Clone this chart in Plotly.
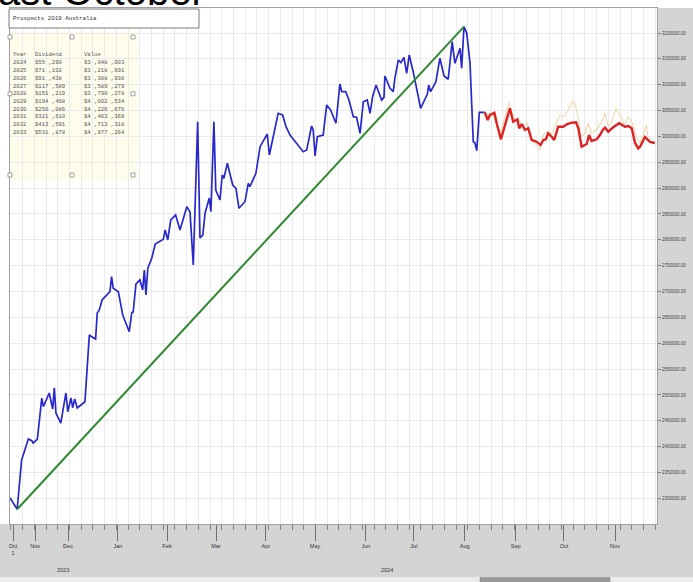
import plotly.graph_objects as go

# ---------------- data ----------------
# x is the trading-bar index of the chart's time axis
blue_bar = [0, 3.1, 5.0, 6.5, 7.9, 9.4, 10.0, 11.8, 13.7, 14.4, 16.9, 18.4, 19.1, 19.8, 21.9, 24.1, 24.9,
            26.3, 27.0, 27.9, 29.0, 32.3, 34.2, 35.2, 36.9, 37.6, 38.5, 39.7, 43.1, 43.8, 44.5, 46.7, 48.6,
            51.4, 52.5, 53.1, 54.3, 56.0, 57.2, 57.9, 58.6, 59.4, 61.1, 62.6, 66.1, 66.9, 68.0, 69.3, 71.4,
            73.3, 76.2, 77.6, 79.0, 80.9, 81.9, 83.1, 84.1, 85.9, 86.6, 87.9, 88.7, 90.5, 91.5, 92.2, 93.7,
            96.0, 97.4, 98.7, 101.3, 102.7, 103.4, 106.0, 107.8, 110.9, 111.8, 112.8, 115.6, 117.5, 119.0,
            120.7, 126.4, 127.9, 130.0, 130.7, 131.5, 132.5, 135.0, 136.5, 138.2, 140.5, 142.2, 143.0, 144.7,
            146.1, 148.0, 149.4, 150.9, 152.3, 154.0, 155.2, 156.3, 157.8, 160.2, 161.2, 161.6, 163.8, 165.2,
            165.9, 167.4, 168.5, 169.8, 171.0, 172.1, 173.1, 173.8, 177.0, 179.2, 179.9, 180.5, 181.3, 183.6,
            185.3, 187.1, 188.9, 190.6, 191.8, 194.0, 194.7, 195.7, 196.9, 198.3, 199.7, 200.4, 201.2, 202.3,
            204.7]
blue_val = [2301000, 2279000, 2374000, 2393500, 2414800, 2411500, 2407000, 2414800, 2494000, 2477300, 2503800,
            2472800, 2514000, 2465000, 2445700, 2503800, 2467600, 2494000, 2475300, 2492200, 2474800, 2486900,
            2615900, 2612600, 2608200, 2658500, 2664300, 2683600, 2699700, 2728700, 2706200, 2699700, 2654600,
            2622300, 2659100, 2660400, 2714600, 2722300, 2703000, 2741600, 2693300, 2744900, 2764300, 2791900,
            2801000, 2819000, 2799700, 2838300, 2848000, 2819000, 2864100, 2853800, 2751300, 3028500, 2803500,
            2809300, 2851900, 2880900, 2854400, 3028500, 2896400, 2877000, 2925400, 2919000, 2948000, 2906000,
            2899600, 2861000, 2873700, 2909300, 2902700, 2928700, 2980100, 3004700, 2964100, 2985300, 3044700,
            3041400, 3018800, 3002700, 2970400, 2973700, 3020100, 3012400, 2962100, 2999400, 3002700, 3060800,
            3051100, 3025400, 3101400, 3086500, 3086500, 3070400, 3038100, 3037000, 3006000, 3067100, 3070400,
            3044700, 3076800, 3099400, 3070400, 3075600, 3116800, 3093000, 3086500, 3112400, 3147800, 3142600,
            3153000, 3122100, 3157500, 3138100, 3125200, 3054400, 3076800, 3082000, 3099400, 3086500, 3105800,
            3151100, 3116800, 3110500, 3183200, 3141400, 3170400, 3131700, 3212200, 3199400, 3141400, 2989800,
            2987800, 2972400, 3046600, 3046600]

red_bar = [204.7, 205.9, 206.9, 208.8, 209.8, 211.6, 213.4, 215.5, 216.9, 218.7, 219.5, 220.6, 222.0, 223.4,
           224.9, 227.0, 228.7, 229.9, 231.0, 232.0, 233.5, 234.6, 236.3, 238.5, 240.0, 242.1, 244.0, 245.0,
           246.4, 248.6, 249.6, 250.7, 252.9, 254.3, 255.5, 256.5, 257.9, 260.0, 262.6, 264.1, 265.1, 266.5,
           268.0, 269.4, 270.8, 271.6, 273.7, 275.9, 278.0]
red_val = [3046600, 3031700, 3041400, 3045900, 3025400, 2994400, 3022100, 3054400, 3028500, 3033100, 3015700,
           3024000, 3012400, 3015700, 2993100, 2989800, 2983400, 2993100, 2994400, 3006000, 2999400, 2993100,
           3018800, 3018800, 3023400, 3026500, 3027300, 3015700, 2980100, 2985300, 3002700, 2991100, 2994400,
           3002700, 3012400, 3016900, 3009100, 3017600, 3025400, 3022100, 3018800, 3020100, 3015700, 2987800,
           2977000, 2980100, 2998900, 2989200, 2987300]

tan_bar = [204.7, 205.5, 206.9, 208.3, 209.8, 211.2, 213.4, 215.2, 216.3, 217.2, 219.1, 221.0, 223.0, 224.4,
           226.3, 228.4, 229.9, 231.6, 233.5, 234.9, 236.8, 238.8, 240.6, 242.1, 243.5, 245.0, 246.1, 247.8,
           249.3, 250.7, 252.9, 255.0, 256.5, 257.9, 259.4, 261.2, 262.9, 264.8, 266.5, 268.0, 270.1, 271.6,
           274.4, 275.0, 276.7]
tan_val = [3046600, 3038100, 3045300, 3041400, 3022100, 3002700, 3038100, 3065200, 3047800, 3028500, 3035000,
           3018800, 3025400, 2996300, 2986700, 2973700, 3002700, 3009100, 3006000, 3018800, 3039500, 3038100,
           3051100, 3067100, 3064000, 3035000, 2999400, 3006000, 3025400, 3006000, 3013800, 3028500, 3044700,
           3018800, 3028500, 3054400, 3041400, 3022100, 3038100, 3028500, 2999400, 2986700, 3022100, 2998900,
           2993100]

month_bar = [1.3, 10.8, 25.0, 46.5, 67.7, 88.8, 110.3, 131.5, 153.4, 174.1, 196.0, 218.0, 238.8, 260.8]
month_text = ["Oct<br>1", "Nov", "Dec", "Jan", "Feb", "Mar", "Apr", "May", "Jun", "Jul", "Aug", "Sep", "Oct", "Nov"]
year_bar = [22.8, 162.5]
year_text = ["2023", "2024"]

tbl_year = ["2024", "2025", "2026", "2027", "2028", "2029", "2030", "2031", "2032", "2033"]
tbl_div = ["$55 ,290", "$71 ,102", "$91 ,438", "$117 ,589", "$151 ,219", "$194 ,468", "$250 ,086",
           "$321 ,610", "$413 ,591", "$531 ,878"]
tbl_val = ["$3 ,048 ,003", "$3 ,218 ,691", "$3 ,388 ,938", "$3 ,589 ,279", "$3 ,790 ,278", "$4 ,002 ,534",
           "$4 ,226 ,676", "$4 ,463 ,369", "$4 ,713 ,318", "$4 ,977 ,264"]

# ---------------- layout helpers (pixel -> paper, decoration only) ----------------
W, H = 693, 582
ML, MR, MT, MB = 10, 36, 8, 58
PW, PH = W - ML - MR, H - MT - MB


def px(x):
    return (x - ML) / PW


def py(y):
    return 1 - (y - MT) / PH


fig = go.Figure()

fig.add_trace(go.Scatter(x=blue_bar, y=blue_val, mode="lines",
                         line=dict(color="#2828cc", width=1.7), hoverinfo="skip"))
i0 = blue_val.index(min(blue_val))
i1 = blue_val.index(max(blue_val))
fig.add_trace(go.Scatter(x=[blue_bar[i0], blue_bar[i1]], y=[blue_val[i0], blue_val[i1]], mode="lines",
                         line=dict(color="#2f8a2f", width=2), hoverinfo="skip"))
fig.add_trace(go.Scatter(x=tan_bar, y=tan_val, mode="lines",
                         line=dict(color="#f0d8ae", width=1.1), hoverinfo="skip"))
fig.add_trace(go.Scatter(x=red_bar, y=red_val, mode="lines",
                         line=dict(color="#dd2222", width=2.4), hoverinfo="skip"))

row0, rstep = 55, 7.75
mid_y = row0 + 5 * rstep

shapes = []
# grey right panel and bottom panel
shapes.append(dict(type="rect", xref="paper", yref="paper", x0=px(657), x1=px(W + 5), y0=py(8), y1=py(H + 5),
                   fillcolor="#d4d4d4", line=dict(width=0), layer="below"))
shapes.append(dict(type="rect", xref="paper", yref="paper", x0=px(-5), x1=px(W + 5), y0=py(524), y1=py(H + 5),
                   fillcolor="#d4d4d4", line=dict(width=0), layer="below"))
# scrollbar
shapes.append(dict(type="rect", xref="paper", yref="paper", x0=px(-5), x1=px(W + 5), y0=py(577), y1=py(H + 5),
                   fillcolor="#ececec", line=dict(width=0), layer="above"))
shapes.append(dict(type="rect", xref="paper", yref="paper", x0=px(480), x1=px(610), y0=py(577.5), y1=py(H + 5),
                   fillcolor="#9a9a9a", line=dict(color="#7a7a7a", width=0.5), layer="above"))
# table background
shapes.append(dict(type="rect", xref="paper", yref="paper", x0=px(9), x1=px(137), y0=py(31), y1=py(181),
                   fillcolor="#fefdec", line=dict(width=0), layer="below"))
# title box
shapes.append(dict(type="rect", xref="paper", yref="paper", x0=px(9), x1=px(199), y0=py(9), y1=py(28),
                   fillcolor="white", line=dict(color="#7a7a7a", width=1), layer="above"))
# selection handles
for hx, hy in [(10, 37), (72, 37), (133, 37), (10, mid_y), (133, mid_y), (10, 175), (72, 175), (133, 175)]:
    shapes.append(dict(type="rect", xref="paper", yref="paper", x0=px(hx - 2), x1=px(hx + 2),
                       y0=py(hy - 2), y1=py(hy + 2), fillcolor="white",
                       line=dict(color="#8a8a8a", width=0.8), layer="above"))

ann = []
mono = "Liberation Mono"
ann.append(dict(text="Prospects 2019 Australia", xref="paper", yref="paper", x=px(11), y=py(18.5),
                xanchor="left", yanchor="middle", showarrow=False,
                font=dict(family=mono, size=5.8, color="#333333")))
cols = [11, 33, 82]
head = ["Year", "Dividend", "Value"]
for c, t in zip(cols, head):
    ann.append(dict(text=t, xref="paper", yref="paper", x=px(c), y=py(row0), xanchor="left", yanchor="middle",
                    showarrow=False, font=dict(family=mono, size=5.6, color="#555555")))
for i in range(len(tbl_year)):
    yy = row0 + (i + 1) * rstep
    for c, t in zip(cols, [tbl_year[i], tbl_div[i], tbl_val[i]]):
        ann.append(dict(text=t, xref="paper", yref="paper", x=px(c), y=py(yy), xanchor="left",
                        yanchor="middle", showarrow=False,
                        font=dict(family=mono, size=5.6, color="#555555")))
for b, t in zip(year_bar, year_text):
    ann.append(dict(text=t, xref="x", yref="paper", x=b, y=py(570), xanchor="center", yanchor="middle",
                    showarrow=False, font=dict(family="Liberation Sans", size=5.5, color="#333333")))
# large clipped heading at very top
ann.append(dict(text="ast October", xref="paper", yref="paper", x=px(-3), y=py(14), xanchor="left",
                yanchor="bottom", showarrow=False, borderpad=0,
                font=dict(family="Liberation Sans", size=40, color="#000000")))

fig.update_layout(
    width=W, height=H, margin=dict(l=ML, r=MR, t=MT, b=MB),
    paper_bgcolor="white", plot_bgcolor="white", showlegend=False,
    shapes=shapes, annotations=ann,
    xaxis=dict(range=[0, 278.9], tickmode="array", tickvals=month_bar, ticktext=month_text,
               ticks="outside", ticklen=16, tickcolor="#707070", tickwidth=1,
               showgrid=False, zeroline=False, showline=True, linecolor="#a0a0a0", mirror=True,
               tickfont=dict(family="Liberation Sans", size=5.5, color="#333333"),
               minor=dict(tick0=0.4, dtick=5.05, ticks="outside", ticklen=5, tickcolor="#808080",
                          showgrid=True, gridcolor="#ebebeb", gridwidth=1)),
    yaxis=dict(range=[2250400, 3248350], side="right", dtick=50000, tick0=0, tickformat=".2f",
               ticks="outside", ticklen=3, tickcolor="#808080",
               showgrid=True, gridcolor="#ebebeb", zeroline=False, showline=True, linecolor="#a0a0a0",
               mirror=True, tickfont=dict(family="Liberation Sans", size=4.5, color="#444444")),
)

fig.write_html("out.html", config={"displayModeBar": False},
               post_script="document.body.style.margin='0px';")
